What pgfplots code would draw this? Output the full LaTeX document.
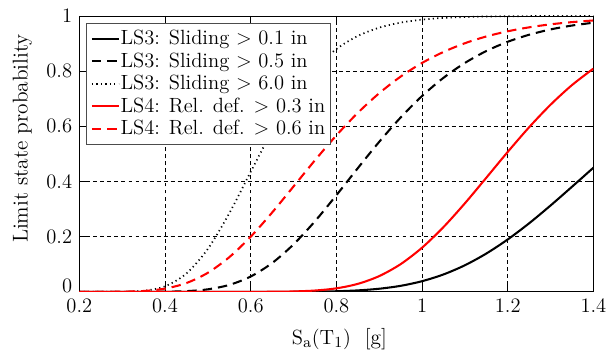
\documentclass[border=0pt]{standalone}
\usepackage{pgfplots}
\pgfplotsset{compat=1.18}
\usepackage{pgfplotstable}

% Fragility curves: exceedance probability vs. spectral acceleration
\pgfplotstableread{
x     s01      s05      s60      r03      r06
0.20  0.0      0.0      0.0      0.0      0.0
0.25  0.0      0.0      0.00001  0.0      0.00004
0.30  0.0      0.0      0.00035  0.0      0.00052
0.35  0.0      0.00006  0.00377  0.0      0.0031
0.40  0.0      0.00049  0.0201   0.0      0.0117
0.45  0.0      0.00254  0.0665   0.0      0.0319
0.50  0.0      0.00916  0.1558   0.0      0.0691
0.55  0.0      0.0251   0.2848   0.0      0.1256
0.60  0.0      0.0556   0.4349   0.00006  0.1999
0.65  0.0      0.1044   0.5825   0.00035  0.2875
0.70  0.00023  0.1721   0.7099   0.00146  0.3820
0.75  0.00076  0.2559   0.8090   0.00476  0.4769
0.80  0.00214  0.3503   0.8800   0.0127   0.5671
0.85  0.00523  0.4483   0.9274   0.0289   0.6488
0.90  0.01127  0.5438   0.9575   0.0571   0.7200
0.95  0.0218   0.6320   0.9758   0.1004   0.7802
1.00  0.0386   0.7099   0.9866   0.1601   0.8297
1.05  0.0631   0.7758   0.9927   0.2348   0.8695
1.10  0.0964   0.8297   0.9961   0.3210   0.9011
1.15  0.1389   0.8729   0.9979   0.4137   0.9256
1.20  0.1900   0.9064   0.9989   0.5073   0.9444
1.25  0.2486   0.9319   0.9994   0.5968   0.9588
1.30  0.3131   0.9511   0.9997   0.6784   0.9696
1.35  0.3810   0.9652   0.9998   0.7495   0.9776
1.40  0.4500   0.9754   0.9999   0.8092   0.9836
}\fragility

\begin{document}
\begin{tikzpicture}
\begin{axis}[
  scale only axis,
  width=300pt, height=161pt,
  xmin=0.2, xmax=1.4, ymin=0, ymax=1,
  xtick={0.2,0.4,...,1.4},
  ytick={0,0.2,...,1},
  xticklabels={0.2,0.4,0.6,0.8,1,1.2,1.4},
  yticklabels={\raisebox{3.5pt}[\height][\depth]{0},0.2,0.4,0.6,0.8,1},
  tick align=inside,
  major tick length=4pt,
  tick style={black, thin},
  grid=major,
  major grid style={black, thin, dash pattern=on 2.3pt off 1.8pt},
  axis line style={black, thin},
  tick label style={font=\fontsize{12}{14}\selectfont},
  xticklabel style={anchor=base, yshift=-12.2pt},
  yticklabel style={anchor=east, inner sep=0pt, xshift=-4pt},
  label style={font=\fontsize{12.5}{15}\selectfont},
  xlabel={$\mathrm{S_a(T_1)}$\ \ [g]},
  ylabel={Limit state probability},
  xlabel style={at={([yshift=-30.7pt]axis description cs:0.506,0)}, anchor=base},
  ylabel style={at={([xshift=-33.3pt]axis description cs:0,0.556)}, anchor=center},
  legend style={at={(0.0135,0.975)}, anchor=north west, draw=black!70,
    font=\fontsize{12}{14}\selectfont, inner sep=2.5pt,
    row sep=0pt, nodes={inner xsep=0.5pt, inner ysep=1.6pt},
    cells={anchor=west}},
  legend cell align=left,
  legend image code/.code={\draw[#1] (0pt,0pt) -- (15.6pt,0pt);},
]
\addplot[black, line width=1.2pt, smooth] table[x=x,y=s01] {\fragility};
\addlegendentry{LS3: Sliding $>$ 0.1 in}
\addplot[black, line width=1.2pt, smooth, dash pattern=on 5.5pt off 3.5pt] table[x=x,y=s05] {\fragility};
\addlegendentry{LS3: Sliding $>$ 0.5 in}
\addplot[black, line width=1pt, smooth, dash pattern=on 0.7pt off 1.9pt] table[x=x,y=s60] {\fragility};
\addlegendentry{LS3: Sliding $>$ 6.0 in}
\addplot[red, line width=1.2pt, smooth] table[x=x,y=r03] {\fragility};
\addlegendentry{LS4: Rel. def. $>$ 0.3 in}
\addplot[red, line width=1.2pt, smooth, dash pattern=on 5.5pt off 3.5pt] table[x=x,y=r06] {\fragility};
\addlegendentry{LS4: Rel. def. $>$ 0.6 in}
\end{axis}
\pgfresetboundingbox
\path[use as bounding box] ([xshift=-46.3pt,yshift=-38.8pt]current axis.south west)
  rectangle ([xshift=8.5pt,yshift=9.3pt]current axis.north east);
\end{tikzpicture}
\end{document}
